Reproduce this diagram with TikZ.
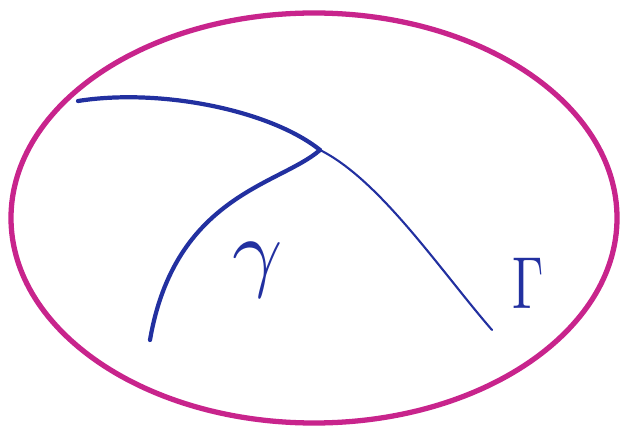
\documentclass[tikz,border=0pt]{standalone}
\usepackage{amsmath}
\usepackage{xcolor}
\usetikzlibrary{positioning, calc}
\definecolor{rim}{RGB}{200,36,140}
\definecolor{ink}{RGB}{34,48,160}
\tikzset{
  rimline/.style={rim, line width=4.5pt},
  thickink/.style={ink, line width=3.6pt, line cap=round, line join=round},
  thinink/.style={ink, line width=1.8pt, line cap=round},
  letter/.style={ink, inner sep=0pt}
}
\begin{document}
\begin{tikzpicture}[x=0.03cm, y=-0.03cm]
\useasboundingbox (0,0) rectangle (627,433);
% Region boundary
\draw[rimline] (314,218) ellipse [x radius=303, y radius=205];

% Curves meeting at the junction
\coordinate (junction) at (320,150);
\coordinate (topend) at (78,101);
\coordinate (leftend) at (150,340);
\coordinate (rightend) at (492,330);
\draw[thickink] (topend) .. controls (160,88) and (270,110) .. (junction);
\draw[thickink] (junction) .. controls (280,185) and (175,195) .. (leftend);
\draw[thinink] (junction) .. controls (380,180) and (440,270) .. (rightend);

% Labels
\node[letter] (gamma) at (258,270) {\scalebox{7.5}{$\gamma$}};
\node[letter] (Gamma) at (528,283) {\scalebox{4.3}[6.3]{$\Gamma$}};
\end{tikzpicture}
\end{document}
